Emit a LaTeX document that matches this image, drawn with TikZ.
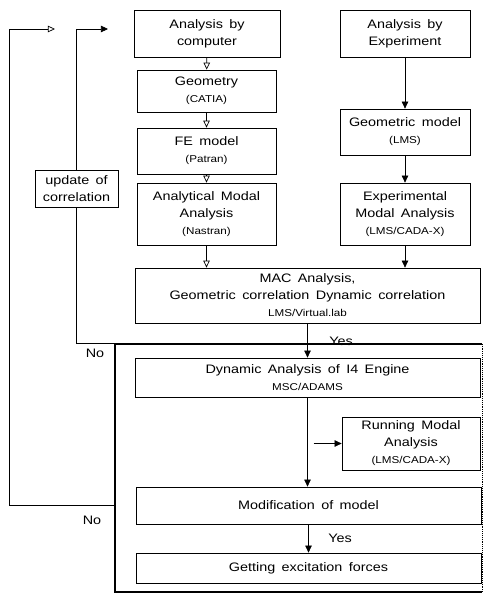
\documentclass[tikz,border=0pt]{standalone}
\usepackage{fontspec}
\setmainfont{Liberation Sans}[FakeStretch=1.17, WordSpace=1.6]
\usepackage{tikz}
\usetikzlibrary{arrows.meta, positioning, calc}

\newcommand{\subtxt}[1]{{\fontsize{8.5}{12}\selectfont #1}}

\begin{document}
\begin{tikzpicture}[
    x=0.03cm, y=-0.03cm,
    font=\fontsize{10.5}{14.5}\selectfont,
    box/.style={draw, line width=0.6pt, rectangle, align=center, inner sep=1pt},
    frame/.style={rectangle, inner sep=0pt},
    flow/.style={-{Triangle[length=6pt, width=5.5pt]}, line width=0.6pt},
    flowo/.style={-{Triangle[open, length=6pt, width=5.5pt]}, line width=0.6pt},
    loop/.style={line width=0.6pt},
    answer/.style={font=\fontsize{10.5}{12}\selectfont},
]
\useasboundingbox (0,0) rectangle (484,601);

% --- Frame round the dynamic part ---
\node[frame, minimum width=11.01cm, minimum height=7.44cm] (frame) at (298.5, 468) {};
\draw[line width=1.3pt] (frame.north east) -- (frame.north west)
    -- (frame.south west) -- (frame.south east);
\draw[line width=0.6pt, densely dotted] (frame.north east) -- (frame.south east);

% --- Computer branch ---
\node[box, minimum width=4.38cm, minimum height=1.41cm] (comp) at (207, 33.5)
    {Analysis by\\computer};
\node[box, minimum width=4.17cm, minimum height=1.26cm] (geom) at (206.5, 91)
    {Geometry\\\subtxt{(CATIA)}};
\node[box, minimum width=4.17cm, minimum height=1.38cm] (fem) at (206.5, 151)
    {FE model\\\subtxt{(Patran)}};
\node[box, minimum width=4.17cm, minimum height=1.86cm] (ama) at (206.5, 214)
    {Analytical Modal\\Analysis\\\subtxt{(Nastran)}};

% --- Experiment branch ---
\node[box, minimum width=3.9cm, minimum height=1.41cm] (expt) at (405, 33.5)
    {Analysis by\\Experiment};
\node[box, minimum width=3.9cm, minimum height=1.38cm] (gmod) at (405, 132)
    {Geometric model\\\subtxt{(LMS)}};
\node[box, minimum width=3.9cm, minimum height=1.86cm] (ema) at (405, 214)
    {Experimental\\Modal Analysis\\\subtxt{(LMS/CADA-X)}};

% --- Correlation ---
\node[box, minimum width=2.49cm, minimum height=1.11cm] (upd) at (76.5, 188.5)
    {update of\\correlation};
\node[box, minimum width=10.35cm, minimum height=1.65cm] (mac) at (307.5, 295.5)
    {MAC Analysis,\\Geometric correlation Dynamic correlation\\\subtxt{LMS/Virtual.lab}};

% --- Dynamic part ---
\node[box, minimum width=10.35cm, minimum height=1.17cm] (dyn) at (307.5, 377.5)
    {Dynamic Analysis of I4 Engine\\\subtxt{MSC/ADAMS}};
\node[box, minimum width=4.14cm, minimum height=1.59cm] (rma) at (411, 443.5)
    {Running Modal\\Analysis\\\subtxt{(LMS/CADA-X)}};
\node[box, minimum width=10.35cm, minimum height=1.11cm] (mod) at (308.5, 505.5)
    {Modification of model};
\node[box, minimum width=10.35cm, minimum height=0.9cm] (get) at (308.5, 568)
    {Getting excitation forces};

% --- Arrows ---
\draw[flowo] (comp) -- (geom);
\draw[flowo] (geom) -- (fem);
\draw[flowo] (fem) -- (ama);
\draw[flowo] (ama.south) -- (ama.south |- mac.north);
\draw[flow] (expt) -- (gmod);
\draw[flow] (gmod) -- (ema);
\draw[flow] (ema.south) -- (ema.south |- mac.north);
\draw[flow] (mac) -- (dyn);
\draw[flow] (dyn.south) -- (dyn.south |- mod.north);
\coordinate (rmain) at ([xshift=0.18cm]dyn.south |- rma.west);
\draw[flow] (rmain) -- (rma.west);
\draw[flow] (mod.south) -- (mod.south |- get.north);

\node[answer] (yes1) at (341, 341) {Yes};
\node[answer] (yes2) at (340, 538) {Yes};

% --- Loops back ---
\coordinate (inTop) at (108, 29);
\coordinate (outCorner) at (9, 29);
\coordinate (outTop) at (55, 29);
\draw[loop] (frame.north west) -- (upd.south |- frame.north west) -- (upd.south);
\draw[loop, flow] (upd.north) |- (inTop);
\draw[loop, flowo] (frame.west |- mod.west) -| (outCorner) -- (outTop);

\node[answer] (no1) at (95, 353) {No};
\node[answer] (no2) at (92, 520) {No};

\end{tikzpicture}
\end{document}
